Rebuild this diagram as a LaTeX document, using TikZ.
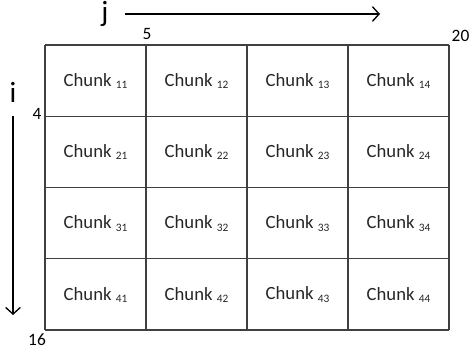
\documentclass[tikz,border=0pt]{standalone}
\usepackage{fontspec}
\setmainfont{Carlito}
\usetikzlibrary{arrows.meta}
\begin{document}
\begin{tikzpicture}[x=0.75pt,y=-0.75pt,
  gridline/.style={draw=black!75, line width=0.9pt},
  cell/.style={font=\fontsize{14}{16}\selectfont, text=black!85},
  axislbl/.style={font=\fontsize{22}{24}\selectfont},
  numlbl/.style={font=\fontsize{13}{15}\selectfont},
  axisarrow/.style={draw=black, line width=1pt, -{Straight Barb[length=5pt,width=11pt,line width=1pt]}}]
\useasboundingbox (0,0) rectangle (471,352);
% grid
\foreach \c in {0,...,4} {
  \coordinate (vt\c) at ({45+101*\c},45);
  \coordinate (vb\c) at ({45+101*\c},330);
}
\foreach \r in {0,...,4} {
  \coordinate (hl\r) at (45,{45+71.25*\r});
  \coordinate (hr\r) at (449,{45+71.25*\r});
}
\foreach \c in {0,...,4} { \draw[gridline] (vt\c) -- (vb\c); }
\foreach \r in {0,...,4} { \draw[gridline] (hl\r) -- (hr\r); }
% cells
\foreach \r in {1,...,4} {
  \foreach \c in {1,...,4} {
    \node[cell] (c\r\c) at ({45+101*(\c-1)+50.5},{45+71.25*(\r-1)+36}) {Chunk {\fontsize{8.5}{10}\selectfont\raisebox{-1.8pt}{\r\c}}};
  }
}
% axes
\node[axislbl] (jl) at (105,14) {j};
\coordinate (ja) at (125,14);
\coordinate (jb) at (380,14);
\draw[axisarrow] (ja) -- (jb);
\node[axislbl] (il) at (13,92) {i};
\coordinate (ia) at (13,116);
\coordinate (ib) at (13,315);
\draw[axisarrow] (ia) -- (ib);
% numbers
\node[numlbl] (n5) at (147,34) {5};
\node[numlbl] (n20) at (460.5,35.5) {20};
\node[numlbl] (n4) at (37,114) {4};
\node[numlbl] (n16) at (37,340) {16};
\end{tikzpicture}
\end{document}
